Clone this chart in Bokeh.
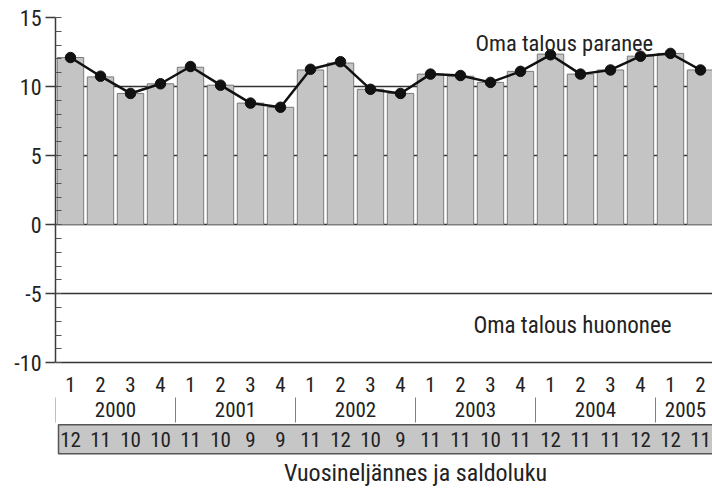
from bokeh.plotting import figure
from bokeh.models import FixedTicker, LinearAxis, Range1d, Grid
from bokeh.core.properties import value
from bokeh.embed import file_html
from bokeh.resources import INLINE

# ---- data ----
quarters = ["1", "2", "3", "4", "1", "2", "3", "4", "1", "2", "3", "4",
            "1", "2", "3", "4", "1", "2", "3", "4", "1", "2"]
years = ["2000", "2001", "2002", "2003", "2004", "2005"]
quarters_per_year = [4, 4, 4, 4, 4, 2]
balance = [12.1, 10.7, 9.5, 10.2, 11.4, 10.1, 8.8, 8.5, 11.2, 11.7, 9.8, 9.5,
           10.9, 10.75, 10.3, 11.1, 12.35, 10.9, 11.2, 12.2, 12.4, 11.2]
trend = [12.1, 10.75, 9.5, 10.2, 11.45, 10.1, 8.8, 8.5, 11.25, 11.8, 9.8, 9.5,
         10.9, 10.8, 10.3, 11.1, 12.3, 10.9, 11.2, 12.2, 12.4, 11.2]
saldo = ["12", "11", "10", "10", "11", "10", "9", "9", "11", "12", "10", "9",
         "11", "11", "10", "11", "12", "11", "11", "12", "12", "11"]
y_ticks = [-10, -5, 0, 5, 10, 15]
y_tick_labels = ["-10", "-5", "0", "5", "10", "15"]
y_minor = list(range(-10, 16))
label_up = "Oma talous paranee"
label_down = "Oma talous huononee"
x_title = "Vuosineljännes ja saldoluku"

FONT = "Roboto Condensed"
TXT = "#222222"

n = len(balance)
xs = [i + 0.5 for i in range(n)]

year_starts = []
s = 0
for c in quarters_per_year:
    year_starts.append(s)
    s += c
year_centers = [st + c / 2 for st, c in zip(year_starts, quarters_per_year)]

p = figure(width=712, height=489, x_range=Range1d(0, 21.9), y_range=Range1d(-19.18, 15),
           output_backend="svg", toolbar_location=None,
           x_axis_location=None, y_axis_location=None,
           min_border_left=55, min_border_right=0, min_border_top=17, min_border_bottom=0)
p.outline_line_color = None
p.background_fill_color = "white"
p.border_fill_color = "white"
p.xgrid.visible = False
p.ygrid.visible = False

ax = LinearAxis(ticker=FixedTicker(ticks=y_ticks, minor_ticks=y_minor), bounds=(-10, 15),
                major_tick_out=10, major_tick_in=0, minor_tick_in=6, minor_tick_out=0,
                axis_line_color="#3a3a3a", axis_line_width=1.5,
                major_tick_line_color="#3a3a3a", major_tick_line_width=1.3,
                minor_tick_line_color="#555555", minor_tick_line_width=1,
                major_label_overrides=dict(zip(y_ticks, y_tick_labels)),
                major_label_text_font_size="22px", major_label_standoff=4,
                major_label_text_font=FONT, major_label_text_color=TXT)
p.add_layout(ax, "left")

grid = Grid(dimension=1, ticker=FixedTicker(ticks=y_ticks),
            grid_line_color="#333333", grid_line_width=1.3)
p.add_layout(grid)

# bars
p.vbar(x=xs, top=balance, bottom=0, width=0.88, fill_color="#c4c4c4",
       line_color="#7a7a7a", line_width=1)

# line with dots
p.line(xs, trend, line_color="#111111", line_width=2.5)
p.scatter(xs, trend, size=10.5, fill_color="#111111", line_color="#111111")

# region labels
p.text(x=[14.0], y=[13.12], text=[label_up], text_align="left", text_baseline="alphabetic",
       text_font=value(FONT), text_font_size="22.5px", text_color=TXT)
p.text(x=[13.93], y=[-7.30], text=[label_down], text_align="left", text_baseline="alphabetic",
       text_font=value(FONT), text_font_size="23px", text_color=TXT)

# quarter labels
p.text(x=xs, y=[-11.61] * n, text=quarters, text_align="center", text_baseline="middle",
       text_font=value(FONT), text_font_size="21px", text_color=TXT)

# year separators and labels
p.segment(x0=year_starts, x1=year_starts, y0=[-12.52] * len(years), y1=[-14.33] * len(years),
          line_color="#808080", line_width=1)
p.text(x=year_centers, y=[-13.39] * len(years), text=years, text_align="center",
       text_baseline="middle", text_font=value(FONT), text_font_size="21px", text_color=TXT)

# saldo row box
p.quad(left=[0.1], right=[23], bottom=[-16.59], top=[-14.49], fill_color="#c6c6c6",
       line_color="#555555", line_width=1.5)
p.text(x=xs, y=[-15.56] * n, text=saldo, text_align="center", text_baseline="middle",
       text_font=value(FONT), text_font_size="21px", text_color=TXT)

# axis title
p.text(x=[12.0], y=[-17.95], text=[x_title], text_align="center", text_baseline="middle",
       text_font=value(FONT), text_font_size="24px", text_color=TXT)

open("out.html", "w").write(file_html(p, INLINE))
